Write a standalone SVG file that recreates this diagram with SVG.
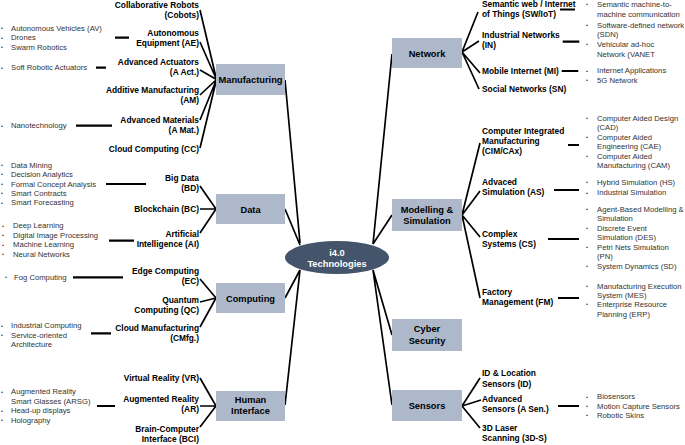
<svg xmlns="http://www.w3.org/2000/svg" width="685" height="445" viewBox="0 0 685 445">
<style>
.lbl{font-family:"Liberation Sans",Arial,sans-serif;font-weight:bold;font-size:8.4px;fill:#000}
.L{text-anchor:end}
.box{fill:#ADB9CA}
.bt{font-family:"Liberation Sans",Arial,sans-serif;font-weight:bold;font-size:9.3px;fill:#000;text-anchor:middle}
.ct{font-family:"Liberation Sans",Arial,sans-serif;font-weight:bold;font-size:9.3px;fill:#fff;text-anchor:middle}
.bul{font-family:"Liberation Sans",Arial,sans-serif;font-size:7.7px;fill:#333}
.dot{font-family:"Liberation Sans",Arial,sans-serif;font-size:5.5px;fill:#333}
.ln{stroke:#000;stroke-width:1.7;fill:none}
.hl{stroke:#000;stroke-width:2.2;fill:none}
</style>
<rect width="685" height="445" fill="#fff"/>

<g id="connectors">
<path class="ln" d="M285,80L300,243M285,209L300,245M285,298L300,270M285,405L300,270"/>
<path class="ln" d="M392,54L373,244M392,215L373,244M392,335L373,270M392,405L373,270"/>
<path class="ln" d="M216.5,79.5L200,10M216.5,79.5L200,42M216.5,79.5L200,70M216.5,79.5L200,95M216.5,79.5L200,120M216.5,79.5L200,148"/>
<path class="ln" d="M216,209L200,186M216,209L200,209M216,209L200,233"/>
<path class="ln" d="M216,298L200,279M216,298L200,302M216,298L200,327"/>
<path class="ln" d="M216,406L200,378M216,406L200,406M216,406L200,427"/>
<path class="ln" d="M462,52L478,12M462,52L479,41M462,52L480,73M462,52L479,89"/>
<path class="ln" d="M462,215L480,143M462,215L480,191M462,215L480,237M462,215L480,298"/>
<path class="ln" d="M462,406L480,378M462,406L481,400M462,406L480,428"/>
<path class="hl" d="M115,37.7H129M96,67.7H106M76,125.7H112M106,184H146M109,240.7H134M73,277.3H123M91,333.3H111M97,406H115"/>
<path class="hl" d="M560,9.5H575M562.7,41.7H579.3M561.7,71H578.3M568,145H579M554,190H579M548,239H579M558,298H579M558,406H579"/>
</g>

<g id="center">
<ellipse cx="337" cy="257.5" rx="52" ry="16.5" fill="#44546A"/>
<text class="ct" x="337" y="255.5">i4.0</text>
<text class="ct" x="337" y="266.5">Technologies</text>
</g>

<g id="manufacturing">
<rect class="box" x="216" y="64" width="69" height="31"/>
<text class="bt" x="250.5" y="82.5">Manufacturing</text>
</g>
<g id="data">
<rect class="box" x="216" y="194" width="69" height="30"/>
<text class="bt" x="250.5" y="212.5">Data</text>
</g>
<g id="computing">
<rect class="box" x="216" y="283" width="69" height="30"/>
<text class="bt" x="250.5" y="301.5">Computing</text>
</g>
<g id="human-interface">
<rect class="box" x="216" y="391" width="69" height="30"/>
<text class="bt" x="250.5" y="402.5">Human</text>
<text class="bt" x="250.5" y="414">Interface</text>
</g>
<g id="network">
<rect class="box" x="392" y="38" width="70" height="30"/>
<text class="bt" x="427" y="56.5">Network</text>
</g>
<g id="modelling">
<rect class="box" x="392" y="199" width="70" height="32"/>
<text class="bt" x="427" y="212.5">Modelling &amp;</text>
<text class="bt" x="427" y="224">Simulation</text>
</g>
<g id="cyber">
<rect class="box" x="392" y="319" width="70" height="32"/>
<text class="bt" x="427" y="332">Cyber</text>
<text class="bt" x="427" y="344">Security</text>
</g>
<g id="sensors">
<rect class="box" x="392" y="390" width="70" height="31"/>
<text class="bt" x="427" y="408.5">Sensors</text>
</g>

<g id="manufacturing-topics">
<text class="lbl L" x="199" y="7.5">Collaborative Robots</text>
<text class="lbl L" x="199" y="17.5">(Cobots)</text>
<text class="lbl L" x="199" y="35.5">Autonomous</text>
<text class="lbl L" x="199" y="45.5">Equipment (AE)</text>
<text class="lbl L" x="199" y="64.5">Advanced Actuators</text>
<text class="lbl L" x="199" y="74.5">(A Act.)</text>
<text class="lbl L" x="199" y="93">Additive Manufacturing</text>
<text class="lbl L" x="199" y="103">(AM)</text>
<text class="lbl L" x="199" y="122.5">Advanced Materials</text>
<text class="lbl L" x="199" y="132.5">(A Mat.)</text>
<text class="lbl L" x="199" y="151.5">Cloud Computing (CC)</text>
</g>
<g id="data-topics">
<text class="lbl L" x="199" y="181">Big Data</text>
<text class="lbl L" x="199" y="191">(BD)</text>
<text class="lbl L" x="199" y="211.5">Blockchain (BC)</text>
<text class="lbl L" x="199" y="237">Artificial</text>
<text class="lbl L" x="199" y="247">Intelligence (AI)</text>
</g>
<g id="computing-topics">
<text class="lbl L" x="199" y="274">Edge Computing</text>
<text class="lbl L" x="199" y="284">(EC)</text>
<text class="lbl L" x="199" y="302.5">Quantum</text>
<text class="lbl L" x="199" y="312.5">Computing (QC)</text>
<text class="lbl L" x="199" y="331">Cloud Manufacturing</text>
<text class="lbl L" x="199" y="341">(CMfg.)</text>
</g>
<g id="hi-topics">
<text class="lbl L" x="199" y="381">Virtual Reality (VR)</text>
<text class="lbl L" x="199" y="401.5">Augmented Reality</text>
<text class="lbl L" x="199" y="411.5">(AR)</text>
<text class="lbl L" x="199" y="431.5">Brain-Computer</text>
<text class="lbl L" x="199" y="441.5">Interface (BCI)</text>
</g>
<g id="network-topics">
<text class="lbl" x="482" y="7.3">Semantic web / Internet</text>
<text class="lbl" x="482" y="17.3">of Things (SW/IoT)</text>
<text class="lbl" x="482" y="38.3">Industrial Networks</text>
<text class="lbl" x="482" y="48.3">(IN)</text>
<text class="lbl" x="482" y="73.5">Mobile Internet (MI)</text>
<text class="lbl" x="482" y="92">Social Networks (SN)</text>
</g>
<g id="modelling-topics">
<text class="lbl" x="482" y="134.3">Computer Integrated</text>
<text class="lbl" x="482" y="144.3">Manufacturing</text>
<text class="lbl" x="482" y="154.3">(CIM/CAx)</text>
<text class="lbl" x="482" y="185">Advaced</text>
<text class="lbl" x="482" y="195">Simulation (AS)</text>
<text class="lbl" x="482" y="236.7">Complex</text>
<text class="lbl" x="482" y="246.7">Systems (CS)</text>
<text class="lbl" x="482" y="295">Factory</text>
<text class="lbl" x="482" y="305">Management (FM)</text>
</g>
<g id="sensor-topics">
<text class="lbl" x="482" y="376">ID &amp; Location</text>
<text class="lbl" x="482" y="386.5">Sensors (ID)</text>
<text class="lbl" x="482" y="401.7">Advanced</text>
<text class="lbl" x="482" y="412">Sensors (A Sen.)</text>
<text class="lbl" x="482" y="431">3D Laser</text>
<text class="lbl" x="482" y="441">Scanning (3D-S)</text>
</g>

<g id="left-bullets">
<text class="dot" x="1" y="30.4">•</text><text class="bul" x="11" y="31">Autonomous Vehicles (AV)</text>
<text class="dot" x="1" y="39.8">•</text><text class="bul" x="11" y="40.4">Drones</text>
<text class="dot" x="1" y="49.1">•</text><text class="bul" x="11" y="49.7">Swarm Robotics</text>
<text class="dot" x="1" y="69.8">•</text><text class="bul" x="11" y="70.4">Soft Robotic Actuators</text>
<text class="dot" x="1" y="127.8">•</text><text class="bul" x="11" y="128.4">Nanotechnology</text>
<text class="dot" x="1" y="167.1">•</text><text class="bul" x="11" y="167.7">Data Mining</text>
<text class="dot" x="1" y="176.4">•</text><text class="bul" x="11" y="177">Decision Analytics</text>
<text class="dot" x="1" y="186.1">•</text><text class="bul" x="11" y="186.7">Formal Concept Analysis</text>
<text class="dot" x="1" y="195.4">•</text><text class="bul" x="11" y="196">Smart Contracts</text>
<text class="dot" x="1" y="204.8">•</text><text class="bul" x="11" y="205.4">Smart Forecasting</text>
<text class="dot" x="2" y="227.8">•</text><text class="bul" x="13" y="228.4">Deep Learning</text>
<text class="dot" x="2" y="237.4">•</text><text class="bul" x="13" y="238">Digital Image Processing</text>
<text class="dot" x="2" y="246.8">•</text><text class="bul" x="13" y="247.4">Machine Learning</text>
<text class="dot" x="2" y="256.4">•</text><text class="bul" x="13" y="257">Neural Networks</text>
<text class="dot" x="5" y="279.4">•</text><text class="bul" x="14" y="280">Fog Computing</text>
<text class="dot" x="1" y="327.8">•</text><text class="bul" x="11" y="328.4">Industrial Computing</text>
<text class="dot" x="1" y="337.1">•</text><text class="bul" x="11" y="337.7">Service-oriented</text>
<text class="bul" x="11" y="346.7">Architecture</text>
<text class="dot" x="1" y="393.8">•</text><text class="bul" x="11" y="394.4">Augmented Reality</text>
<text class="bul" x="11" y="404">Smart Glasses (ARSG)</text>
<text class="dot" x="1" y="412.8">•</text><text class="bul" x="11" y="413.4">Head-up displays</text>
<text class="dot" x="1" y="422.1">•</text><text class="bul" x="11" y="422.7">Holography</text>
</g>

<g id="right-bullets">
<text class="dot" x="586" y="6.4">•</text><text class="bul" x="597" y="7">Semantic machine-to-</text>
<text class="bul" x="597" y="16.7">machine communication</text>
<text class="dot" x="586" y="27.1">•</text><text class="bul" x="597" y="27.7">Software-defined network</text>
<text class="bul" x="597" y="37">(SDN)</text>
<text class="dot" x="586" y="46.4">•</text><text class="bul" x="597" y="47">Vehicular ad-hoc</text>
<text class="bul" x="597" y="56.7">Network (VANET</text>
<text class="dot" x="586" y="72.8">•</text><text class="bul" x="597" y="73.4">Internet Applications</text>
<text class="dot" x="586" y="82.1">•</text><text class="bul" x="597" y="82.7">5G Network</text>
<text class="dot" x="586" y="120.4">•</text><text class="bul" x="597" y="121">Computer Aided Design</text>
<text class="bul" x="597" y="130.4">(CAD)</text>
<text class="dot" x="586" y="139.4">•</text><text class="bul" x="597" y="140">Computer Aided</text>
<text class="bul" x="597" y="149.4">Engineering (CAE)</text>
<text class="dot" x="586" y="158.1">•</text><text class="bul" x="597" y="158.7">Computer Aided</text>
<text class="bul" x="597" y="168">Manufacturing (CAM)</text>
<text class="dot" x="586" y="184.4">•</text><text class="bul" x="597" y="185">Hybrid Simulation (HS)</text>
<text class="dot" x="586" y="194.8">•</text><text class="bul" x="597" y="195.4">Industrial Simulation</text>
<text class="dot" x="586" y="211.1">•</text><text class="bul" x="597" y="211.7">Agent-Based Modelling &amp;</text>
<text class="bul" x="597" y="221">Simulation</text>
<text class="dot" x="586" y="230.4">•</text><text class="bul" x="597" y="231">Discrete Event</text>
<text class="bul" x="597" y="240">Simulation (DES)</text>
<text class="dot" x="586" y="249.4">•</text><text class="bul" x="597" y="250">Petri Nets Simulation</text>
<text class="bul" x="597" y="259.4">(PN)</text>
<text class="dot" x="586" y="268.1">•</text><text class="bul" x="597" y="268.7">System Dynamics (SD)</text>
<text class="dot" x="586" y="288.1">•</text><text class="bul" x="597" y="288.7">Manufacturing Execution</text>
<text class="bul" x="597" y="297.7">System (MES)</text>
<text class="dot" x="586" y="306.4">•</text><text class="bul" x="597" y="307">Enterprise Resource</text>
<text class="bul" x="597" y="316.7">Planning (ERP)</text>
<text class="dot" x="586" y="398.8">•</text><text class="bul" x="597" y="399.4">Biosensors</text>
<text class="dot" x="586" y="408.1">•</text><text class="bul" x="597" y="408.7">Motion Capture Sensors</text>
<text class="dot" x="586" y="417.4">•</text><text class="bul" x="597" y="418">Robotic Skins</text>
</g>
</svg>
